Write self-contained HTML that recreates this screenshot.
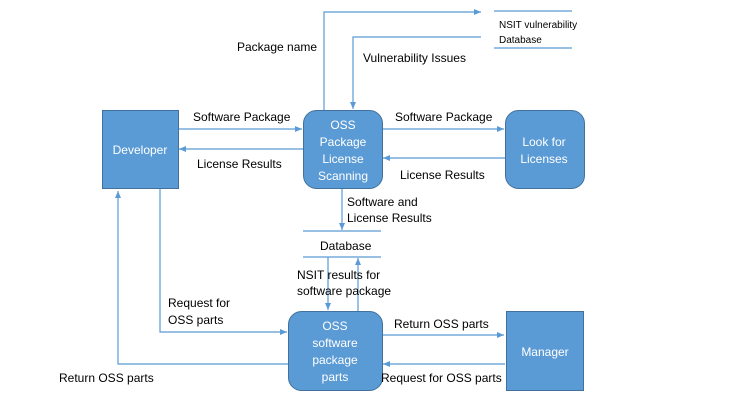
<!DOCTYPE html>
<html><head><meta charset="utf-8"><style>
html,body{margin:0;padding:0;background:#fff;}
svg{display:block;}
text{font-family:"Liberation Sans",sans-serif;font-size:12px;fill:#000;}
.w{fill:#fff;}
</style></head><body>
<svg width="745" height="414" viewBox="0 0 745 414" xmlns="http://www.w3.org/2000/svg">
<defs><marker id="a" markerWidth="8" markerHeight="6" refX="7" refY="3" orient="auto" markerUnits="userSpaceOnUse"><path d="M0,0 L7,3 L0,6 z" fill="#5b9bd5"/></marker></defs>
<g stroke="#5b9bd5" stroke-width="1.2" fill="none">
<polyline points="324,110 324,12 481,12" marker-end="url(#a)"/>
<polyline points="481,37 353,37 353,109" marker-end="url(#a)"/>
<line x1="178" y1="129" x2="302" y2="129" marker-end="url(#a)"/>
<line x1="303" y1="149" x2="179" y2="149" marker-end="url(#a)"/>
<line x1="382" y1="129" x2="504" y2="129" marker-end="url(#a)"/>
<line x1="505" y1="158" x2="383" y2="158" marker-end="url(#a)"/>
<line x1="342" y1="188" x2="342" y2="230" marker-end="url(#a)"/>
<line x1="328" y1="257" x2="328" y2="310" marker-end="url(#a)"/>
<line x1="358" y1="311" x2="358" y2="258" marker-end="url(#a)"/>
<polyline points="160,188 160,332 287,332" marker-end="url(#a)"/>
<polyline points="288,364 118,364 118,191" marker-end="url(#a)"/>
<line x1="382" y1="335" x2="504" y2="335" marker-end="url(#a)"/>
<line x1="505" y1="364" x2="383" y2="364" marker-end="url(#a)"/>
<line x1="303" y1="231" x2="381" y2="231"/>
<line x1="303" y1="257" x2="381" y2="257"/>
<line x1="494" y1="11" x2="572" y2="11"/>
<line x1="494" y1="48" x2="572" y2="48"/>
</g>
<g fill="#5b9bd5" stroke="#41719c" stroke-width="1">
<rect x="102.5" y="110.5" width="76" height="78"/>
<rect x="303.5" y="110.5" width="79" height="78" rx="13"/>
<rect x="505.5" y="110.5" width="79" height="78" rx="13"/>
<rect x="288.5" y="311.5" width="94" height="79" rx="13"/>
<rect x="506.5" y="311.5" width="77" height="79"/>
</g>
<g text-anchor="middle">
<text class="w" x="140" y="154">Developer</text>
<text class="w" x="343" y="129">OSS</text>
<text class="w" x="343" y="146">Package</text>
<text class="w" x="343" y="163">License</text>
<text class="w" x="343" y="180">Scanning</text>
<text class="w" x="544" y="146">Look for</text>
<text class="w" x="544" y="163">Licenses</text>
<text class="w" x="335" y="330">OSS</text>
<text class="w" x="335" y="347">software</text>
<text class="w" x="335" y="364">package</text>
<text class="w" x="335" y="381">parts</text>
<text class="w" x="545" y="356">Manager</text>
</g>
<text x="237" y="51">Package name</text>
<text x="363" y="62">Vulnerability Issues</text>
<text x="193" y="121">Software Package</text>
<text x="197" y="168">License Results</text>
<text x="395" y="121">Software Package</text>
<text x="400" y="179">License Results</text>
<text x="347" y="206">Software and</text>
<text x="347" y="222">License Results</text>
<text x="320" y="250">Database</text>
<text x="297" y="279">NSIT results for</text>
<text x="297" y="295">software package</text>
<text x="168" y="307">Request for</text>
<text x="168" y="324">OSS parts</text>
<text x="394" y="328">Return OSS parts</text>
<text x="381" y="382">Request for OSS parts</text>
<text x="59" y="382">Return OSS parts</text>
<text x="499" y="28" style="font-size:10px">NSIT vulnerability</text>
<text x="499" y="43" style="font-size:10px">Database</text>
</svg>
</body></html>
